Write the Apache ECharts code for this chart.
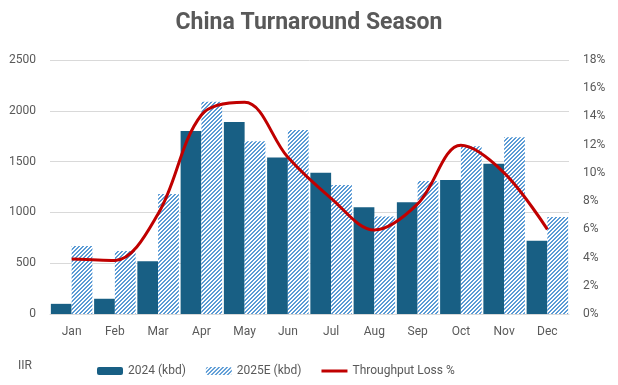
<!DOCTYPE html>
<html>
<head>
<meta charset="utf-8">
<script src="https://cdn.jsdelivr.net/npm/echarts@6/dist/echarts.min.js"></script>
<style>html,body{margin:0;padding:0;background:#fff}#c{width:618px;height:385px}</style>
</head>
<body>
<div id="c"></div>
<script>
const months = ['Jan','Feb','Mar','Apr','May','Jun','Jul','Aug','Sep','Oct','Nov','Dec'];
const kbd2024 = [100,150,520,1800,1890,1540,1390,1050,1100,1320,1480,720];
const kbd2025E = [670,620,1180,2090,1700,1810,1270,960,1310,1650,1740,955];
const lossPct = [3.9,3.8,7.1,14.1,15.0,11.1,8.2,5.95,7.8,11.95,10.0,6.0];
const leftTicks = {min:0, max:2500, interval:500};
const rightTicks = {min:0, max:18, interval:2};

function hatch(){
  const c = document.createElement('canvas');
  c.width = 4; c.height = 4;
  const ctx = c.getContext('2d');
  const img = ctx.createImageData(4,4);
  for(let y=0;y<4;y++)for(let x=0;x<4;x++){
    const i=(y*4+x)*4;
    const blue = ((x+y)%4) < 2;
    img.data[i]= blue?0x5B:255; img.data[i+1]= blue?0x9B:255; img.data[i+2]= blue?0xD5:255; img.data[i+3]=255;
  }
  ctx.putImageData(img,0,0);
  return {image:c, repeat:'repeat'};
}

const font = 'Roboto, "Liberation Sans", sans-serif';
const chart = echarts.init(document.getElementById('c'));
chart.setOption({
  animation:false,
  textStyle:{fontFamily:font},
  title:{text:'China Turnaround Season', left:'center', top:7,
    textStyle:{fontSize:23, fontWeight:'bold', color:'#595959', fontFamily:font}},
  grid:{left:50, right:49, top:60, bottom:71},
  legend:{left:92, top:360, itemWidth:26, itemHeight:8, itemGap:20,
    textStyle:{fontSize:12, color:'#595959'},
    data:['2024 (kbd)','2025E (kbd)',{name:'Throughput Loss %', icon:'path://M0 0h26v3H0z'}]},
  graphic:[{type:'text', left:18, top:360, style:{text:'IIR', fontSize:12, fill:'#595959', fontFamily:font}}],
  xAxis:{type:'category', data:months,
    axisLine:{lineStyle:{color:'#d9d9d9'}}, axisTick:{show:false},
    axisLabel:{color:'#595959', fontSize:12, margin:12}},
  yAxis:[
    {type:'value', min:leftTicks.min, max:leftTicks.max, interval:leftTicks.interval,
      splitLine:{lineStyle:{color:'#d9d9d9'}}, axisLine:{show:false}, axisTick:{show:false},
      axisLabel:{color:'#595959', fontSize:12, margin:14, formatter:v=>String(v)}},
    {type:'value', min:rightTicks.min, max:rightTicks.max, interval:rightTicks.interval,
      splitLine:{show:false}, axisLine:{show:false}, axisTick:{show:false},
      axisLabel:{color:'#595959', fontSize:12, margin:14, formatter:v=>v+'%'}}
  ],
  series:[
    {name:'2024 (kbd)', type:'bar', data:kbd2024, barGap:'0%', barCategoryGap:'4%',
      itemStyle:{color:'#185F84'}},
    {name:'2025E (kbd)', type:'bar', data:kbd2025E, barGap:'0%', barCategoryGap:'4%',
      itemStyle:{color:hatch()}},
    {name:'Throughput Loss %', type:'line', yAxisIndex:1, data:lossPct, smooth:0.35,
      symbol:'none', lineStyle:{color:'#C00000', width:3}, itemStyle:{color:'#C00000'}}
  ]
});
</script>
</body>
</html>
